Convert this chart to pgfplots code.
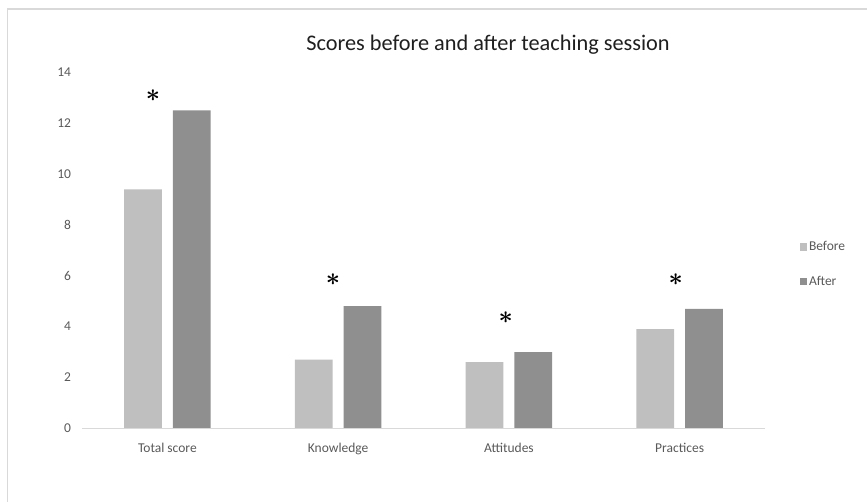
\documentclass[border=0pt]{standalone}
\usepackage{pgfplots}
\pgfplotsset{compat=1.18}
\usepackage{fontspec}
\setmainfont{Carlito}
\definecolor{before}{HTML}{BFBFBF}
\definecolor{after}{HTML}{8F8F8F}
\definecolor{txt}{HTML}{595959}
\definecolor{frame}{HTML}{D9D9D9}
\definecolor{titlec}{HTML}{1F1F1F}
\tikzset{ast/.style={font=\fontsize{27bp}{27bp}\selectfont\boldmath, inner sep=0pt}}
\begin{document}
\begin{tikzpicture}[x=1bp,y=1bp]
\path[use as bounding box] (0,0) rectangle (867,502);
\draw[frame, line width=1.3bp] (7.3,0) -- (7.3,493) -- (867,493);
\node[anchor=base, font=\fontsize{22.3bp}{26bp}\selectfont, text=titlec] at (488,451.3) {Scores before and after teaching session};
\begin{axis}[
  at={(82bp,73.7bp)}, anchor=south west,
  scale only axis, width=683bp, height=356bp,
  xmin=-0.5, xmax=3.5, ymin=0, ymax=14,
  ytick={0,2,4,6,8,10,12,14},
  xtick={0,1,2,3},
  xticklabels={Total score, Knowledge, Attitudes, Practices},
  axis line style={draw=none},
  major tick length=0pt, tick style={draw=none},
  ybar=11bp, bar width=37.7bp,
  clip=false,
  /pgf/number format/assume math mode=true,
  tick label style={font=\fontsize{13.5bp}{16bp}\selectfont, text=txt},
  x tick label style={anchor=base, yshift=-24.7bp},
  y tick label style={anchor=east, xshift=-7.5bp},
  legend style={at={(1.046,0.4605)}, anchor=west, draw=none, fill=none,
    font=\fontsize{13.5bp}{16bp}\selectfont, text=txt, row sep=20bp},
  legend cell align=left,
  legend image code/.code={\fill[#1] (0bp,-3.7bp) rectangle (7.4bp,3.7bp);},
]
\addplot[fill=before, draw=none] coordinates {(0,9.4) (1,2.7) (2,2.6) (3,3.9)};
\addplot[fill=after, draw=none] coordinates {(0,12.5) (1,4.8) (2,3.0) (3,4.7)};
\legend{Before, After}
\draw[frame, line width=1.3bp] (rel axis cs:0,0) -- (rel axis cs:1,0);
\node[ast] at (axis cs:-0.084,13.07) {$\ast$};
\node[ast] at (axis cs:0.970,5.83) {$\ast$};
\node[ast] at (axis cs:1.981,4.34) {$\ast$};
\node[ast] at (axis cs:2.977,5.83) {$\ast$};
\end{axis}
\end{tikzpicture}
\end{document}
